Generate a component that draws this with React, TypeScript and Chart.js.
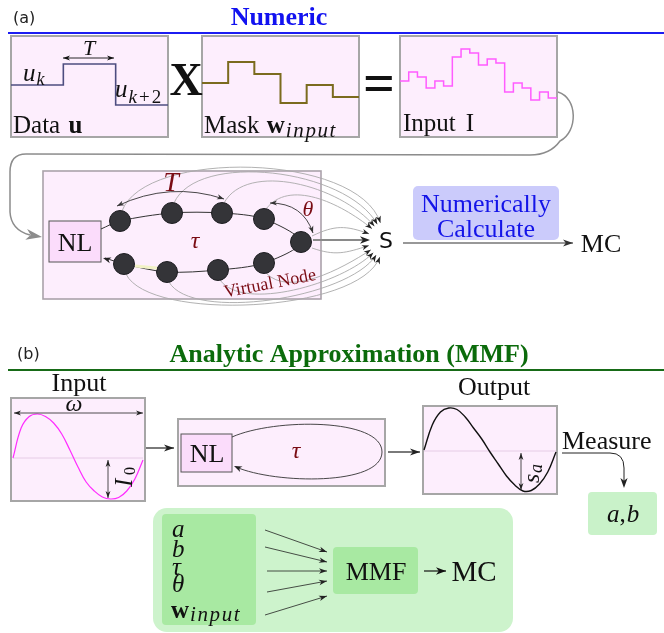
import { useEffect, useRef } from 'react';
import { Chart, registerables } from 'chart.js';

Chart.register(...registerables);

// ---------------- values ----------------
const dataU = [52, 73, 32];
const maskW = [54, 75, 63, 34, 52, 40];
const inputI = [56, 65, 60, 49, 56, 51, 80, 88, 84, 72, 78, 74, 45, 54, 49, 37, 45, 39];
const sineInput = [0, 30, 41.5, 44, 41.5, 35, 24, 8, -9, -24, -33, -39, -41, -39.5, -33, -21, -2];
const sineOutput = [1, 26, 39, 43, 41.5, 34, 23, 12, -1, -13, -25, -34, -40, -39.5, -33, -21, -1];
const mmfInputs = ['a', 'b', 'τ', 'θ'];
const titleNumeric = 'Numeric';
const titleAnalytic = 'Analytic Approximation (MMF)';

// ---------------- layout ----------------
const W = 664;
const H = 633;
const BOX_U = { x: 11, y: 36, w: 157, h: 101 };
const BOX_M = { x: 202, y: 36, w: 157, h: 101 };
const BOX_I = { x: 400, y: 36, w: 157, h: 101 };
const NODES = [
  [120, 221], [172, 213], [222, 213], [264, 219], [301, 242],
  [264, 263], [218, 270], [167, 272], [124, 264],
];
const S_C = { x: 386, y: 240 };

const SERIF = '"Liberation Serif", "DejaVu Serif", serif';
const SANS = '"DejaVu Sans", "Liberation Sans", sans-serif';
const DARKRED = '#7a0c14';
const PINK = '#fdeefd';
const BORDER = '#a6a6a6';

function stepPoints(vals: number[], b: { x: number; y: number; w: number; h: number }) {
  const n = vals.length;
  const dx = b.w / n;
  const floor = b.y + b.h;
  const pts = vals.map((v, i) => ({ x: b.x + i * dx, y: floor - v }));
  pts.push({ x: b.x + b.w, y: floor - vals[n - 1] });
  return pts;
}

function wavePoints(vals: number[], x0: number, x1: number, yc: number) {
  const n = vals.length - 1;
  return vals.map((v, i) => ({ x: x0 + ((x1 - x0) * i) / n, y: yc - v }));
}

function tools(chart: any) {
  const ctx: CanvasRenderingContext2D = chart.ctx;
  const sx = chart.scales.x;
  const sy = chart.scales.y;
  const X = (v: number) => sx.getPixelForValue(v);
  const Y = (v: number) => sy.getPixelForValue(v);
  const line = (x1: number, y1: number, x2: number, y2: number, color: string, w: number) => {
    ctx.beginPath();
    ctx.moveTo(X(x1), Y(y1));
    ctx.lineTo(X(x2), Y(y2));
    ctx.strokeStyle = color;
    ctx.lineWidth = w;
    ctx.stroke();
  };
  const head = (x: number, y: number, ang: number, len: number, half: number, color: string) => {
    ctx.save();
    ctx.translate(X(x), Y(y));
    ctx.rotate(ang);
    ctx.beginPath();
    ctx.moveTo(0, 0);
    ctx.lineTo(-len, -half);
    ctx.lineTo(-len * 0.72, 0);
    ctx.lineTo(-len, half);
    ctx.closePath();
    ctx.fillStyle = color;
    ctx.fill();
    ctx.restore();
  };
  const arrow = (x1: number, y1: number, x2: number, y2: number, color: string, w: number,
    len = 9, half = 3.5, both = false) => {
    line(x1, y1, x2, y2, color, w);
    head(x2, y2, Math.atan2(y2 - y1, x2 - x1), len, half, color);
    if (both) head(x1, y1, Math.atan2(y1 - y2, x1 - x2), len, half, color);
  };
  const qarrow = (x1: number, y1: number, cx: number, cy: number, x2: number, y2: number,
    color: string, w: number, len = 8, half = 3, both = false) => {
    ctx.beginPath();
    ctx.moveTo(X(x1), Y(y1));
    ctx.quadraticCurveTo(X(cx), Y(cy), X(x2), Y(y2));
    ctx.strokeStyle = color;
    ctx.lineWidth = w;
    ctx.stroke();
    head(x2, y2, Math.atan2(y2 - cy, x2 - cx), len, half, color);
    if (both) head(x1, y1, Math.atan2(y1 - cy, x1 - cx), len, half, color);
  };
  const text = (s: string, x: number, y: number, font: string, color = '#111', align: CanvasTextAlign = 'left', spacing = 0) => {
    ctx.font = font;
    (ctx as any).letterSpacing = spacing + 'px';
    ctx.fillStyle = color;
    ctx.textAlign = align;
    ctx.textBaseline = 'alphabetic';
    ctx.fillText(s, X(x), Y(y));
    (ctx as any).letterSpacing = '0px';
  };
  const ctext = (s: string, cx: number, cy: number, font: string, color = '#111') => {
    ctx.font = font;
    ctx.fillStyle = color;
    ctx.textAlign = 'center';
    ctx.textBaseline = 'alphabetic';
    const m = ctx.measureText(s);
    const base = cy + (m.actualBoundingBoxAscent - m.actualBoundingBoxDescent) / 2;
    ctx.fillText(s, X(cx), Y(base));
  };
  const rich = (parts: { s: string; f: string; dy?: number; sp?: number; gap?: number }[], x: number, y: number, color = '#111') => {
    let cx = X(x);
    ctx.fillStyle = color;
    ctx.textAlign = 'left';
    ctx.textBaseline = 'alphabetic';
    for (const p of parts) {
      cx += p.gap || 0;
      ctx.font = p.f;
      (ctx as any).letterSpacing = (p.sp || 0) + 'px';
      ctx.fillText(p.s, cx, Y(y + (p.dy || 0)));
      cx += ctx.measureText(p.s).width;
    }
    (ctx as any).letterSpacing = '0px';
  };
  const box = (x: number, y: number, w: number, h: number, fill: string, stroke: string, lw: number) => {
    ctx.fillStyle = fill;
    ctx.fillRect(X(x), Y(y), w, h);
    ctx.strokeStyle = stroke;
    ctx.lineWidth = lw;
    ctx.strokeRect(X(x), Y(y), w, h);
  };
  const rbox = (x: number, y: number, w: number, h: number, r: number, fill: string) => {
    ctx.beginPath();
    (ctx as any).roundRect(X(x), Y(y), w, h, r);
    ctx.fillStyle = fill;
    ctx.fill();
  };
  return { ctx, X, Y, line, head, arrow, qarrow, text, ctext, rich, box, rbox };
}

function drawBack(chart: any) {
  const t = tools(chart);
  const { ctx, X, Y } = t;
  ctx.save();
  // section rules
  t.line(8, 33, W, 33, '#1c1cf2', 2);
  t.line(8, 370, W, 370, '#176b17', 2);

  // pink panels
  t.box(BOX_U.x, BOX_U.y, BOX_U.w, BOX_U.h, PINK, BORDER, 2);
  t.box(BOX_M.x, BOX_M.y, BOX_M.w, BOX_M.h, PINK, BORDER, 2);
  t.box(BOX_I.x, BOX_I.y, BOX_I.w, BOX_I.h, PINK, BORDER, 2);
  t.box(43, 171, 278, 128, PINK, '#aaa2aa', 1.6);
  t.box(11, 398, 134, 103, PINK, BORDER, 2);
  t.box(178, 419, 207, 67, PINK, BORDER, 2);
  t.box(423, 406, 134, 88, PINK, BORDER, 2);
  t.box(49, 221, 52, 41, '#fbdcfb', '#555', 1);
  t.box(181, 434, 51, 38, '#fbdcfb', '#555', 1);
  t.line(13, 458, 143, 458, '#e6cce6', 1);
  t.line(424, 451, 556, 451, '#e6cce6', 1);

  // coloured panels
  t.rbox(413, 186, 146, 54, 5, '#cbcbfb');
  t.rbox(153, 508, 360, 124, 14, '#cdf3cc');
  t.rbox(162, 514, 94, 111, 4, '#a8e9a2');
  t.rbox(333, 547, 85, 47, 4, '#a8e9a2');
  t.rbox(588, 492, 69, 43, 4, '#c9f2c9');

  // connector from Input I back to reservoir
  ctx.beginPath();
  ctx.moveTo(X(558), Y(92));
  ctx.bezierCurveTo(X(578), Y(98), X(578), Y(132), X(560), Y(141));
  ctx.quadraticCurveTo(X(550), Y(155), X(530), Y(155));
  ctx.lineTo(X(26), Y(154));
  ctx.quadraticCurveTo(X(10), Y(154), X(10), Y(172));
  ctx.lineTo(X(10), Y(212));
  ctx.quadraticCurveTo(X(11), Y(230), X(30), Y(235));
  ctx.strokeStyle = '#8c8c8c';
  ctx.lineWidth = 1.5;
  ctx.stroke();
  t.head(42, 237, Math.atan2(2, 12), 16, 5.5, '#8c8c8c');

  // thin grey curves from the virtual nodes into S
  const r = 18;
  const curve = (sxp: number, syp: number, c1x: number, c1y: number, angDeg: number, reach: number) => {
    const a = (angDeg * Math.PI) / 180;
    const tx = S_C.x + r * Math.cos(a);
    const ty = S_C.y + r * Math.sin(a);
    const c2x = tx + reach * Math.cos(a);
    const c2y = ty + reach * Math.sin(a);
    ctx.beginPath();
    ctx.moveTo(X(sxp), Y(syp));
    ctx.bezierCurveTo(X(c1x), Y(c1y), X(c2x), Y(c2y), X(tx), Y(ty));
    ctx.strokeStyle = '#a9a9a9';
    ctx.lineWidth = 0.9;
    ctx.stroke();
    t.head(tx, ty, Math.atan2(-Math.sin(a), -Math.cos(a)), 7, 2.6, '#222');
  };
  const topLift = [62, 52, 42, 30];
  const topAng = [252, 241, 230, 219];
  [0, 1, 2, 3].forEach((k, i) => {
    const [nx, ny] = NODES[k];
    curve(nx + 2, ny - 10, nx + 25, ny - 10 - topLift[i], topAng[i], topLift[i] + 12);
  });
  const botLift = [24, 32, 40, 48];
  const botAng = [147, 135, 123, 110];
  [5, 6, 7, 8].forEach((k, i) => {
    const [nx, ny] = NODES[k];
    curve(nx + 2, ny + 10, nx + 25, ny + 10 + botLift[i], botAng[i], botLift[i] + 12);
  });
  curve(312, 236, 335, 225, 200, 25);
  curve(312, 248, 335, 256, 162, 25);
  // main arrow from the last node to S
  t.line(313, 240, 366, 240, '#8a8a8a', 2.2);
  t.head(370, 240, 0, 10, 3.8, '#222');
  ctx.restore();
}

function drawFront(chart: any) {
  const t = tools(chart);
  const { ctx, X, Y } = t;
  ctx.save();
  const it = (px: number) => `italic ${px}px ${SERIF}`;
  const rm = (px: number) => `${px}px ${SERIF}`;
  const bf = (px: number) => `bold ${px}px ${SERIF}`;

  // ----- (a) -----
  t.text('(a)', 13, 23, `16px ${SANS}`, '#222');
  t.text(titleNumeric, 279, 25, bf(26), '#1212f0', 'center');

  // Data u panel
  t.arrow(63, 58, 114, 58, '#111', 0.9, 7, 2.6, true);
  t.text('T', 89, 55, it(22), '#111', 'center');
  t.rich([{ s: 'u', f: it(25) }, { s: 'k', f: it(18), dy: 4, gap: 1 }], 23, 81);
  t.rich([{ s: 'u', f: it(25) }, { s: 'k', f: it(19), dy: 6, gap: 1 }, { s: '+', f: rm(19), dy: 6, gap: 2 },
    { s: '2', f: rm(19), dy: 6, gap: 2 }], 115, 97);
  t.rich([{ s: 'Data ', f: rm(25) }, { s: 'u', f: bf(25), gap: 2 }], 13, 133);

  t.ctext('X', 186, 79, bf(46), '#111');

  t.rich([{ s: 'Mask ', f: rm(25) }, { s: 'w', f: bf(25), gap: 1 }, { s: 'input', f: it(21), dy: 4, sp: 1.6, gap: 1 }], 204, 133);

  t.ctext('=', 379, 83.5, bf(56), '#111');

  t.rich([{ s: 'Input', f: rm(25) }, { s: 'I', f: rm(25), gap: 10 }], 403, 131);

  // reservoir
  t.ctext('NL', 75, 242, rm(26), '#111');
  // highlighted link
  t.line(135, 266, 157, 268, '#f2f2c6', 3);
  // feedback arrowhead into NL
  t.head(103, 258, Math.atan2(258 - 262, 103 - 116), 8, 3, '#222');
  // T and theta arcs
  t.qarrow(117, 206, 170, 181, 224, 199, '#333', 0.9, 7, 2.6, true);
  t.text('T', 171, 191, it(28), DARKRED, 'center');
  t.qarrow(270, 203, 303, 203, 313, 233, '#333', 0.9, 7, 2.6, true);
  t.ctext('θ', 308, 208, it(22), DARKRED);
  t.ctext('τ', 195, 242, it(24), DARKRED);
  ctx.save();
  ctx.translate(X(270), Y(284));
  ctx.rotate((-11 * Math.PI) / 180);
  ctx.font = rm(18);
  ctx.fillStyle = DARKRED;
  ctx.textAlign = 'center';
  ctx.textBaseline = 'middle';
  ctx.fillText('Virtual Node', 0, 0);
  ctx.restore();

  t.ctext('S', 386, 240, `22px ${SANS}`, '#111');

  // numerically calculate
  t.text('Numerically', 486, 212, rm(26), '#1414e8', 'center');
  t.text('Calculate', 486, 237, rm(26), '#1414e8', 'center');
  t.arrow(403, 243, 573, 243, '#333', 1.2, 10, 3.6);
  t.ctext('MC', 601, 243, rm(26), '#111');

  // ----- (b) -----
  t.text('(b)', 17, 359, `16px ${SANS}`, '#222');
  t.text(titleAnalytic, 349, 362, bf(26), '#0b6b0b', 'center');

  t.text('Input', 79, 391, rm(26), '#111', 'center');
  t.arrow(14, 413, 143, 413, '#222', 0.8, 7, 2.4, true);
  t.text('ω', 74, 411, it(24), '#111', 'center');
  t.arrow(108, 460, 108, 498, '#222', 0.8, 7, 2.4, true);
  ctx.save();
  ctx.translate(X(124), Y(474));
  ctx.rotate(-Math.PI / 2);
  ctx.fillStyle = '#111';
  ctx.textAlign = 'left';
  ctx.textBaseline = 'alphabetic';
  ctx.font = it(25);
  ctx.fillText('I', -13, 8);
  ctx.font = rm(16);
  ctx.fillText('0', -1, 11);
  ctx.restore();

  t.arrow(146, 448, 174, 448, '#222', 1.2, 10, 3.6);
  t.ctext('NL', 207, 453, rm(26), '#111');
  ctx.beginPath();
  ctx.moveTo(X(232), Y(437));
  ctx.bezierCurveTo(X(275), Y(418), X(382), Y(418), X(382), Y(452));
  ctx.bezierCurveTo(X(382), Y(486), X(275), Y(484), X(236), Y(467));
  ctx.strokeStyle = '#333';
  ctx.lineWidth = 0.9;
  ctx.stroke();
  t.head(234, 466, Math.atan2(467 - 474, 236 - 252), 8, 3, '#222');
  t.ctext('τ', 296, 452, it(24), DARKRED);
  t.arrow(388, 452, 420, 452, '#222', 1.2, 10, 3.6);

  t.text('Output', 494, 395, rm(26), '#111', 'center');
  t.arrow(521, 453, 521, 490, '#222', 0.8, 7, 2.4, true);
  ctx.save();
  ctx.translate(X(533), Y(472));
  ctx.rotate(-Math.PI / 2);
  ctx.fillStyle = '#111';
  ctx.textAlign = 'left';
  ctx.textBaseline = 'alphabetic';
  ctx.font = it(24);
  ctx.fillText('s', -11, 6);
  ctx.font = it(18);
  ctx.fillText('a', -1, 9);
  ctx.restore();

  t.text('Measure', 562, 449, rm(26), '#111');
  ctx.beginPath();
  ctx.moveTo(X(562), Y(453));
  ctx.lineTo(X(610), Y(453));
  ctx.quadraticCurveTo(X(624), Y(453), X(624), Y(468));
  ctx.lineTo(X(624), Y(482));
  ctx.strokeStyle = '#222';
  ctx.lineWidth = 1;
  ctx.stroke();
  t.head(624, 488, Math.PI / 2, 10, 3.6, '#222');
  t.rich([{ s: 'a', f: it(25) }, { s: ',', f: rm(25) }, { s: 'b', f: it(25), gap: 1 }], 607, 522);

  // MMF block
  const rows = [537, 557, 575, 592];
  mmfInputs.forEach((s, i) => t.text(s, 172, rows[i], it(25), '#111'));
  t.rich([{ s: 'w', f: bf(25) }, { s: 'input', f: it(21), dy: 3, sp: 1.6, gap: 1 }], 171, 618);
  const from = [[265, 530], [265, 547], [267, 571], [267, 592], [265, 615]];
  const to = [[327, 552], [327, 562], [327, 571], [327, 581], [327, 596]];
  from.forEach((f, i) => t.arrow(f[0], f[1], to[i][0], to[i][1], '#222', 0.8, 8, 2.8));
  t.ctext('MMF', 376, 571, rm(26), '#111');
  t.arrow(424, 571, 446, 571, '#111', 1.2, 10, 3.8);
  t.ctext('MC', 474, 571, rm(29), '#111');
  ctx.restore();
}

const diagramPlugin = {
  id: 'diagram',
  beforeDatasetsDraw(chart: any) {
    drawBack(chart);
  },
  afterDatasetsDraw(chart: any) {
    drawFront(chart);
  },
};

export default function App() {
  const ref = useRef<HTMLCanvasElement>(null);
  useEffect(() => {
    if (!ref.current) return;
    const loop = [{ x: 101, y: 229 }, ...NODES.map(([x, y]) => ({ x, y })), { x: 105, y: 258 }];
    const chart = new Chart(ref.current, {
      type: 'line',
      data: {
        datasets: [
          {
            data: NODES.map(([x, y]) => ({ x, y })),
            showLine: false,
            pointRadius: 10.5,
            pointBackgroundColor: '#343438',
            pointBorderColor: '#1e1e22',
            pointBorderWidth: 1,
          } as any,
          { data: loop, borderColor: '#333', borderWidth: 1, tension: 0.3, pointRadius: 0 },
          { data: stepPoints(dataU, BOX_U), borderColor: '#4d4d80', borderWidth: 1.6, stepped: true, pointRadius: 0 },
          { data: stepPoints(maskW, BOX_M), borderColor: '#7b6b1e', borderWidth: 2, stepped: true, pointRadius: 0 },
          { data: stepPoints(inputI, BOX_I), borderColor: '#ff5cff', borderWidth: 1.5, stepped: true, pointRadius: 0 },
          { data: wavePoints(sineInput, 13, 143, 458), borderColor: '#ff2cff', borderWidth: 1.2, tension: 0.4, pointRadius: 0 },
          { data: wavePoints(sineOutput, 424, 556, 451), borderColor: '#111', borderWidth: 1.4, tension: 0.4, pointRadius: 0 },
        ],
      },
      options: {
        responsive: false,
        animation: false,
        devicePixelRatio: 1,
        events: [],
        layout: { padding: 0, autoPadding: false },
        plugins: { legend: { display: false }, tooltip: { enabled: false } },
        scales: {
          x: { type: 'linear', min: 0, max: W, display: false },
          y: { type: 'linear', min: 0, max: H, reverse: true, display: false },
        },
      },
      plugins: [diagramPlugin],
    });
    return () => chart.destroy();
  }, []);
  return (
    <div style={{ position: 'fixed', left: 0, top: 0, width: W, height: H, background: '#fff' }}>
      <canvas ref={ref} width={W} height={H} style={{ display: 'block', width: W, height: H }} />
    </div>
  );
}
